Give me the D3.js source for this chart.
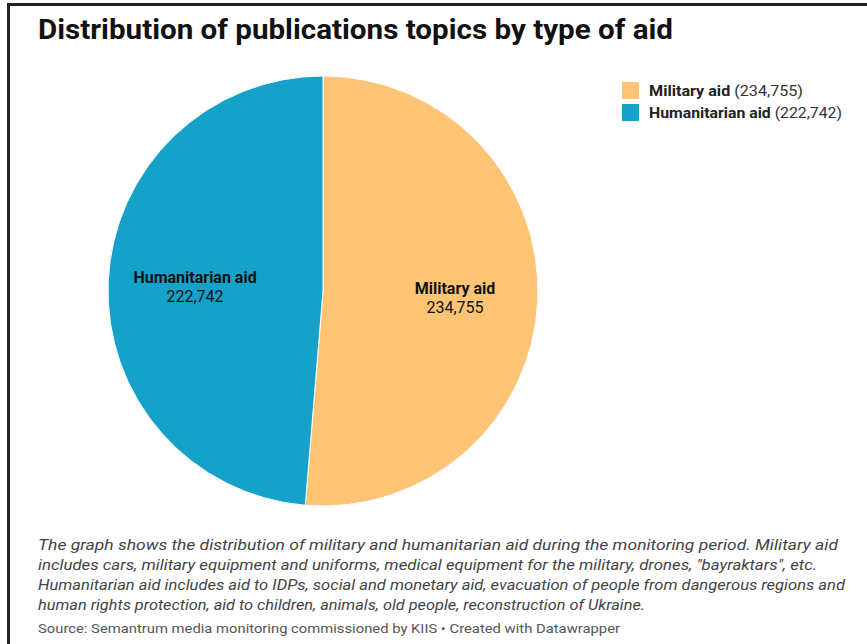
<!DOCTYPE html>
<html><head><meta charset="utf-8">
<script src="https://cdn.jsdelivr.net/npm/d3@7"></script>
<style>body{margin:0;background:#fff;} svg{display:block;font-family:Roboto,"Noto Sans",sans-serif;}</style>
</head><body>
<script>
const categories = ["Military aid", "Humanitarian aid"];
const values = [234755, 222742];
const colors = ["#fdc476", "#16a1c9"];
const title = "Distribution of publications topics by type of aid";
const notes = [
  "The graph shows the distribution of military and humanitarian aid during the monitoring period. Military aid",
  "includes cars, military equipment and uniforms, medical equipment for the military, drones, \"bayraktars\", etc.",
  "Humanitarian aid includes aid to IDPs, social and monetary aid, evacuation of people from dangerous regions and",
  "human rights protection, aid to children, animals, old people, reconstruction of Ukraine."
];
const noteWidths = [800, 779, 807, 607];
const legendWidths = [154, 193];
const source = "Source: Semantrum media monitoring commissioned by KIIS \u2022 Created with Datawrapper";

const W = 867, H = 644;
const svg = d3.select("body").append("svg").attr("width", W).attr("height", H);
svg.append("rect").attr("width", W).attr("height", H).attr("fill", "#fff");
// frame
svg.append("rect").attr("x", 7).attr("y", 3).attr("width", W - 7).attr("height", 3).attr("fill", "#222");
svg.append("rect").attr("x", 7).attr("y", 3).attr("width", 3).attr("height", H - 3).attr("fill", "#222");

svg.append("text").attr("x", 38).attr("y", 39).attr("font-size", 27).attr("font-weight", 700)
  .attr("fill", "#111").attr("textLength", 635).attr("lengthAdjust", "spacingAndGlyphs").text(title);

const data = categories.map((c, i) => ({name: c, value: values[i], color: colors[i]}));
const cx = 323, cy = 291, r = 215;
const pie = d3.pie().value(d => d.value).sort(null);
const arc = d3.arc().innerRadius(0).outerRadius(r);
const g = svg.append("g").attr("transform", `translate(${cx},${cy})`);
const arcs = pie(data);
g.selectAll("path").data(arcs).join("path").attr("d", arc)
  .attr("fill", d => d.data.color).attr("stroke", "#fff").attr("stroke-width", 1);

const labelArc = d3.arc().innerRadius(r * 0.605).outerRadius(r * 0.605);
const fmt = d3.format(",");
arcs.forEach(a => {
  const [x, y] = labelArc.centroid(a);
  const lx = x + 2;
  const t = g.append("text").attr("text-anchor", "middle").attr("font-size", 16).attr("fill", "#111");
  t.append("tspan").attr("x", lx).attr("y", y - 2.5).attr("font-weight", 700).text(a.data.name);
  t.append("tspan").attr("x", lx).attr("y", y + 16.5).text(fmt(a.data.value));
});

// legend
const lg = svg.append("g").attr("transform", "translate(622,82)");
data.forEach((d, i) => {
  const row = lg.append("g").attr("transform", `translate(0,${i * 22})`);
  row.append("rect").attr("width", 17).attr("height", 17).attr("fill", d.color);
  const t = row.append("text").attr("x", 27).attr("y", 14).attr("font-size", 15).attr("fill", "#222")
    .attr("textLength", legendWidths[i]).attr("lengthAdjust", "spacingAndGlyphs");
  t.append("tspan").attr("font-weight", 700).text(d.name);
  t.append("tspan").attr("fill", "#333").text(" (" + fmt(d.value) + ")");
});

notes.forEach((l, i) => {
  svg.append("text").attr("x", 38).attr("y", 550 + i * 20).attr("font-size", 14.5)
    .attr("font-style", "italic").attr("fill", "#444")
    .attr("textLength", noteWidths[i]).attr("lengthAdjust", "spacingAndGlyphs").text(l);
});
svg.append("text").attr("x", 38).attr("y", 633).attr("font-size", 13.5).attr("fill", "#555")
  .attr("textLength", 582).attr("lengthAdjust", "spacingAndGlyphs").text(source);
</script>
</body></html>
